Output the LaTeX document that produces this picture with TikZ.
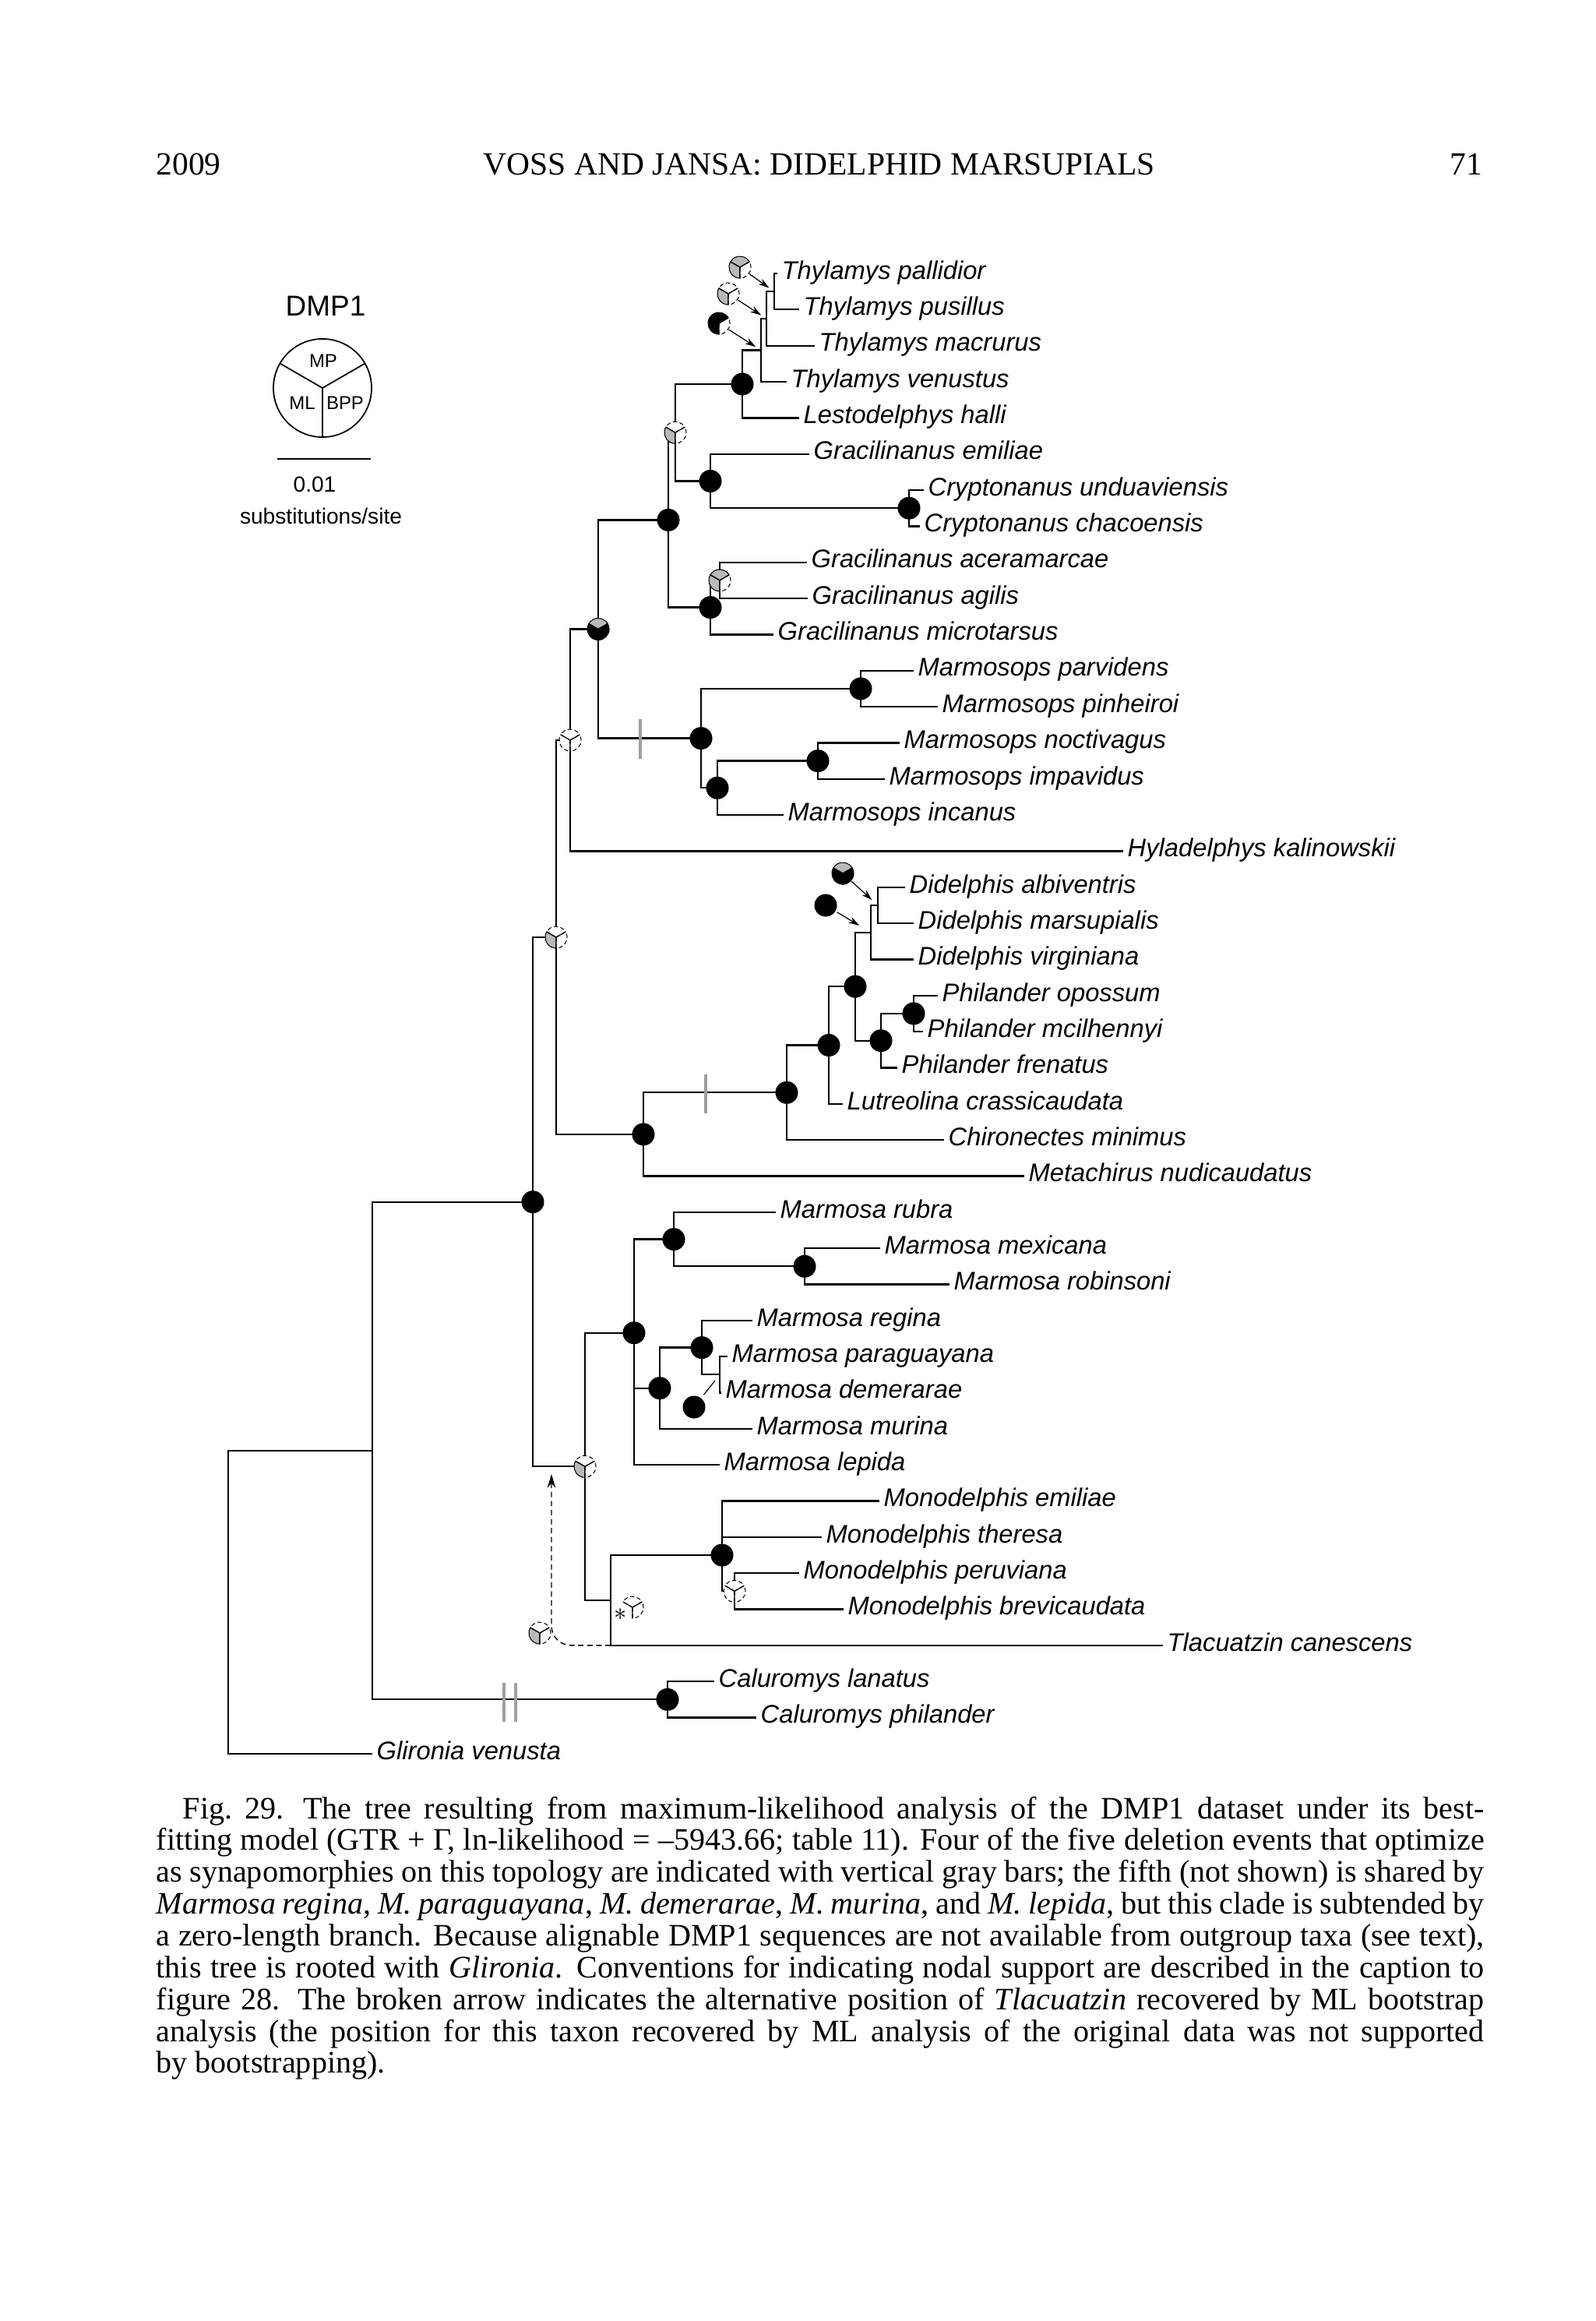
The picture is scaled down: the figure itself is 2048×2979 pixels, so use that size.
\documentclass[tikz,border=0pt]{standalone}
\usepackage{fontspec}
\setmainfont{Liberation Serif}
\setsansfont{Liberation Sans}
\usetikzlibrary{arrows.meta}

\tikzset{
  br/.style={line width=0.65pt},
  tx/.style={anchor=west, font=\sffamily\itshape\fontsize{9.3}{11}\selectfont, inner xsep=0.05cm, inner ysep=0pt, text height=5.95pt, text depth=1.86pt},
  bdot/.style={circle, fill=black, inner sep=0pt, minimum size=0.29cm},
  pw/.style={fill=white, draw=black, line width=0.3pt, dash pattern=on 1.5pt off 1pt},
  pg/.style={fill=gray!55, draw=black, line width=0.3pt},
  pb/.style={fill=black, draw=black, line width=0.3pt},
  pn/.style={draw=none, fill=none},
  piespoke/.style={line width=0.35pt},
  ptr/.style={line width=0.35pt, -{Stealth[length=4pt,width=2.4pt]}},
  synbar/.style={line width=1.2pt, draw=gray!75},
  altarrow/.style={line width=0.4pt, dash pattern=on 2pt off 1.3pt, rounded corners=0.25cm, -{Stealth[length=5pt,width=3pt]}},
  hdr/.style={font=\fontsize{11.8}{12}\selectfont, inner sep=0pt},
  leg/.style={font=\sffamily\fontsize{8}{9}\selectfont, inner sep=0pt},
  caption/.style={anchor=base west, text width=17.04cm, align=justify, inner sep=0pt, font=\fontsize{11.4}{11.62}\selectfont},
}
\newcommand{\pierad}{0.14cm}
\newcommand{\supportpie}[4]{%
  \begin{scope}[shift={(#1)}]
    \filldraw[#2] (0,0) -- (30:\pierad) arc[start angle=30, end angle=150, radius=\pierad] -- cycle;
    \filldraw[#3] (0,0) -- (150:\pierad) arc[start angle=150, end angle=270, radius=\pierad] -- cycle;
    \filldraw[#4] (0,0) -- (270:\pierad) arc[start angle=270, end angle=390, radius=\pierad] -- cycle;
    \draw[piespoke] (0,0) -- (30:\pierad) (0,0) -- (150:\pierad) (0,0) -- (270:\pierad);
  \end{scope}}

\begin{document}
\begin{tikzpicture}[x=0.01cm, y=-0.01cm]
\useasboundingbox (0,0) rectangle (2048,2979);
% running head
\node[hdr, anchor=base west] (year) at (200,225) {2009};
\node[hdr, anchor=base] (head) at (1052,225) {VOSS AND JANSA: DIDELPHID MARSUPIALS};
\node[hdr, anchor=base east] (page) at (1904,225) {71};
% legend
\node[font=\sffamily\fontsize{10.5}{12}\selectfont, inner sep=0pt] (dmp) at (418,393) {DMP1};
\coordinate (key) at (414,498);
\draw[line width=0.5pt] (key) circle[radius=0.63cm];
\draw[line width=0.5pt] (key) -- ++(30:0.63cm) (key) -- ++(150:0.63cm) (key) -- ++(270:0.63cm);
\node[font=\sffamily\fontsize{6.8}{7}\selectfont, inner sep=0pt] (kmp) at (415,463) {MP};
\node[font=\sffamily\fontsize{6.8}{7}\selectfont, inner sep=0pt] (kml) at (388,517) {ML};
\node[font=\sffamily\fontsize{6.8}{7}\selectfont, inner sep=0pt] (kbpp) at (443,517) {BPP};
\coordinate (sbl) at (356,589);
\coordinate (sbr) at (476,589);
\draw[line width=0.6pt] (sbl) -- (sbr);
\node[leg] (sbv) at (404,622) {0.01};
\node[leg] (sbu) at (412,662) {substitutions/site};
\begin{scope}[yshift=-0.03cm]
% taxa
\node[tx] (tpal) at (998,348) {Thylamys pallidior};
\node[tx] (tpus) at (1026,394.3) {Thylamys pusillus};
\node[tx] (tmac) at (1046,440.7) {Thylamys macrurus};
\node[tx] (tven) at (1010,487) {Thylamys venustus};
\node[tx] (lhal) at (1026,533.4) {Lestodelphys halli};
\node[tx] (gemi) at (1039,579.7) {Gracilinanus emiliae};
\node[tx] (cund) at (1186,626) {Cryptonanus unduaviensis};
\node[tx] (ccha) at (1181,672.4) {Cryptonanus chacoensis};
\node[tx] (gace) at (1036,718.7) {Gracilinanus aceramarcae};
\node[tx] (gagi) at (1037,765) {Gracilinanus agilis};
\node[tx] (gmic) at (993,811.4) {Gracilinanus microtarsus};
\node[tx] (mpar) at (1173,857.7) {Marmosops parvidens};
\node[tx] (mpin) at (1204,904) {Marmosops pinheiroi};
\node[tx] (mnoc) at (1155,950.4) {Marmosops noctivagus};
\node[tx] (mimp) at (1136,996.8) {Marmosops impavidus};
\node[tx] (minc) at (1006,1043) {Marmosops incanus};
\node[tx] (hkal) at (1442,1089.5) {Hyladelphys kalinowskii};
\node[tx] (dalb) at (1162,1135.8) {Didelphis albiventris};
\node[tx] (dmar) at (1173,1182) {Didelphis marsupialis};
\node[tx] (dvir) at (1173,1228.5) {Didelphis virginiana};
\node[tx] (popo) at (1204,1274.8) {Philander opossum};
\node[tx] (pmci) at (1185,1321) {Philander mcilhennyi};
\node[tx] (pfre) at (1152,1367.5) {Philander frenatus};
\node[tx] (lcra) at (1082,1413.8) {Lutreolina crassicaudata};
\node[tx] (cmin) at (1212,1460) {Chironectes minimus};
\node[tx] (mnud) at (1315,1506.5) {Metachirus nudicaudatus};
\node[tx] (mrub) at (996,1552.8) {Marmosa rubra};
\node[tx] (mmex) at (1130,1599) {Marmosa mexicana};
\node[tx] (mrob) at (1219,1645.5) {Marmosa robinsoni};
\node[tx] (mreg) at (966,1691.8) {Marmosa regina};
\node[tx] (mpay) at (934,1738) {Marmosa paraguayana};
\node[tx] (mdem) at (926,1784.5) {Marmosa demerarae};
\node[tx] (mmur) at (966,1830.8) {Marmosa murina};
\node[tx] (mlep) at (924,1877) {Marmosa lepida};
\node[tx] (oemi) at (1129,1923.5) {Monodelphis emiliae};
\node[tx] (othe) at (1055,1969.8) {Monodelphis theresa};
\node[tx] (oper) at (1026,2016) {Monodelphis peruviana};
\node[tx] (obre) at (1083,2062.5) {Monodelphis brevicaudata};
\node[tx] (tcan) at (1493,2108.8) {Tlacuatzin canescens};
\node[tx] (clan) at (917,2155) {Caluromys lanatus};
\node[tx] (cphi) at (971,2201.5) {Caluromys philander};
\node[tx] (gven) at (478,2247.8) {Glironia venusta};
% internal nodes
\coordinate (thyA) at (994,371.2);
\coordinate (thyB) at (984,406);
\coordinate (thyC) at (977,446.5);
\coordinate (thyD) at (953,490);
\coordinate (cryA) at (1167,649.2);
\coordinate (graA) at (912,614.5);
\coordinate (nA) at (867,552.2);
\coordinate (graB) at (924,741.9);
\coordinate (graC) at (912,776.6);
\coordinate (nB) at (858,664.4);
\coordinate (mopA) at (1105,880.9);
\coordinate (mopB) at (1050,973.6);
\coordinate (mopC) at (921,1008.3);
\coordinate (mopD) at (900,944.6);
\coordinate (nC) at (768,804.5);
\coordinate (nD) at (732,947);
\coordinate (didA) at (1127,1158.9);
\coordinate (didB) at (1118,1193.7);
\coordinate (phiA) at (1173,1297.9);
\coordinate (phiB) at (1131,1332.7);
\coordinate (dphA) at (1098,1263.2);
\coordinate (lutA) at (1064,1338.5);
\coordinate (chiA) at (1010,1399.3);
\coordinate (nF) at (826,1452.9);
\coordinate (nE) at (714,1200);
\coordinate (marA) at (1033,1622.3);
\coordinate (marB) at (865,1587.6);
\coordinate (marC) at (924,1761.3);
\coordinate (marD) at (901,1726.6);
\coordinate (marE) at (847,1778.7);
\coordinate (marF) at (814,1827.9);
\coordinate (marG) at (814,1707.7);
\coordinate (monA) at (927,1946.7);
\coordinate (monB) at (943,2039.3);
\coordinate (monC) at (927,1993);
\coordinate (nI) at (784,2050.9);
\coordinate (nH) at (751,1879.3);
\coordinate (nG) at (684,1539.7);
\coordinate (calA) at (857,2178.3);
\coordinate (nJ) at (478,1859);
\coordinate (root) at (293,2053.4);
% branches
\draw[br] (thyA) |- (tpal.west) (thyA) |- (tpus.west);
\draw[br] (thyB) |- (thyA) (thyB) |- (tmac.west);
\draw[br] (thyC) |- (thyB) (thyC) |- (tven.west);
\draw[br] (thyD) |- (thyC) (thyD) |- (lhal.west);
\draw[br] (cryA) |- (cund.west) (cryA) |- (ccha.west);
\draw[br] (graA) |- (gemi.west) (graA) |- (cryA);
\draw[br] (nA) |- (thyD) (nA) |- (graA);
\draw[br] (graB) |- (gace.west) (graB) |- (gagi.west);
\draw[br] (graC) |- (graB) (graC) |- (gmic.west);
\draw[br] (nB) |- (nA) (nB) |- (graC);
\draw[br] (mopA) |- (mpar.west) (mopA) |- (mpin.west);
\draw[br] (mopB) |- (mnoc.west) (mopB) |- (mimp.west);
\draw[br] (mopC) |- (mopB) (mopC) |- (minc.west);
\draw[br] (mopD) |- (mopA) (mopD) |- (mopC);
\draw[br] (nC) |- (nB) (nC) |- (mopD);
\draw[br] (nD) |- (nC) (nD) |- (hkal.west);
\draw[br] (didA) |- (dalb.west) (didA) |- (dmar.west);
\draw[br] (didB) |- (didA) (didB) |- (dvir.west);
\draw[br] (phiA) |- (popo.west) (phiA) |- (pmci.west);
\draw[br] (phiB) |- (phiA) (phiB) |- (pfre.west);
\draw[br] (dphA) |- (didB) (dphA) |- (phiB);
\draw[br] (lutA) |- (dphA) (lutA) |- (lcra.west);
\draw[br] (chiA) |- (lutA) (chiA) |- (cmin.west);
\draw[br] (nF) |- (chiA) (nF) |- (mnud.west);
\draw[br] (nE) |- (nD) (nE) |- (nF);
\draw[br] (marA) |- (mmex.west) (marA) |- (mrob.west);
\draw[br] (marB) |- (mrub.west) (marB) |- (marA);
\draw[br] (marC) |- (mpay.west) (marC) |- (mdem.west);
\draw[br] (marD) |- (mreg.west) (marD) |- (marC);
\draw[br] (marE) |- (marD) (marE) |- (mmur.west);
\draw[br] (marF) |- (marE) (marF) |- (mlep.west);
\draw[br] (marG) |- (marB) (marG) |- (marF);
\draw[br] (monA) |- (oemi.west) (monA) |- (othe.west);
\draw[br] (monB) |- (oper.west) (monB) |- (obre.west);
\draw[br] (monC) |- (monA) (monC) |- (monB);
\draw[br] (nI) |- (monC) (nI) |- (tcan.west);
\draw[br] (nH) |- (marG) (nH) |- (nI);
\draw[br] (nG) |- (nE) (nG) |- (nH);
\draw[br] (calA) |- (clan.west) (calA) |- (cphi.west);
\draw[br] (nJ) |- (nG) (nJ) |- (calA);
\draw[br] (root) |- (nJ) (root) |- (gven.west);
% deletion events
\draw[synbar] (822,920) -- (822,971);
\draw[synbar] (906,1376) -- (906,1426);
\draw[synbar] (647,2157) -- (647,2207);
\draw[synbar] (662,2157) -- (662,2207);
% alternative position of Tlacuatzin
\coordinate (alt) at (708,1889);
\draw[altarrow] (nI |- tcan.west) -| (alt);
% nodal support
\foreach \n in {thyD,graA,cryA,nB,graC,mopA,mopB,mopC,mopD,dphA,phiA,phiB,lutA,chiA,nF,nG,marA,marB,marD,marE,marG,monC,calA}
  \node[bdot] at (\n) {};
\coordinate (sp1) at (950,340);
\coordinate (sp2) at (935,374);
\coordinate (sp3) at (923,412);
\coordinate (sp4) at (1082,1118);
\coordinate (sp5) at (1060,1159);
\coordinate (sp6) at (891,1803);
\coordinate (sp7) at (812,2060);
\coordinate (sp8) at (693,2093);
\draw[ptr, shorten <=0.15cm, shorten >=0.08cm] (sp1) -- (thyA);
\draw[ptr, shorten <=0.15cm, shorten >=0.08cm] (sp2) -- (thyB);
\draw[ptr, shorten <=0.15cm, shorten >=0.08cm] (sp3) -- (thyC);
\draw[ptr, shorten <=0.15cm, shorten >=0.1cm] (sp4) -- (didA);
\draw[ptr, shorten <=0.17cm, shorten >=0.17cm] (sp5) -- (didB);
\draw[line width=0.35pt, shorten <=0.2cm, shorten >=0.1cm] (sp6) -- (marC);
\supportpie{sp1}{pg}{pg}{pw}
\supportpie{sp2}{pw}{pg}{pw}
\supportpie{sp3}{pb}{pb}{pw}
\supportpie{nA}{pw}{pg}{pw}
\supportpie{graB}{pg}{pg}{pw}
\supportpie{nC}{pg}{pb}{pb}
\supportpie{nD}{pw}{pw}{pw}
\supportpie{nE}{pw}{pg}{pw}
\supportpie{sp4}{pg}{pb}{pb}
\node[bdot] (sd5) at (sp5) {};
\node[bdot] (sd6) at (sp6) {};
\supportpie{nH}{pw}{pg}{pw}
\supportpie{sp7}{pw}{pn}{pw}
\node[inner sep=0pt, font=\fontsize{9}{9}\selectfont] (ast) at (797,2069) {$\ast$};
\supportpie{monB}{pw}{pw}{pw}
\supportpie{sp8}{pw}{pg}{pw}
\end{scope}
% caption
\node[caption] (cap) at (200,2334) {\hspace*{0.34cm}Fig.~29.\hspace{0.6em}The tree resulting from maximum-likelihood analysis of the DMP1 dataset under its best-\linebreak fitting model (GTR + Γ, ln-likelihood = \textendash5943.66; table 11). Four of the five deletion events that optimize\linebreak as synapomorphies on this topology are indicated with vertical gray bars; the fifth (not shown) is shared by\linebreak \textit{Marmosa regina}, \textit{M. paraguayana}, \textit{M. demerarae}, \textit{M. murina}, and \textit{M. lepida}, but this clade is subtended by\linebreak a zero-length branch. Because alignable DMP1 sequences are not available from outgroup taxa (see text),\linebreak this tree is rooted with \textit{Glironia}. Conventions for indicating nodal support are described in the caption to\linebreak figure 28. The broken arrow indicates the alternative position of \textit{Tlacuatzin} recovered by ML bootstrap\linebreak analysis (the position for this taxon recovered by ML analysis of the original data was not supported\linebreak by bootstrapping).};
\end{tikzpicture}
\end{document}
